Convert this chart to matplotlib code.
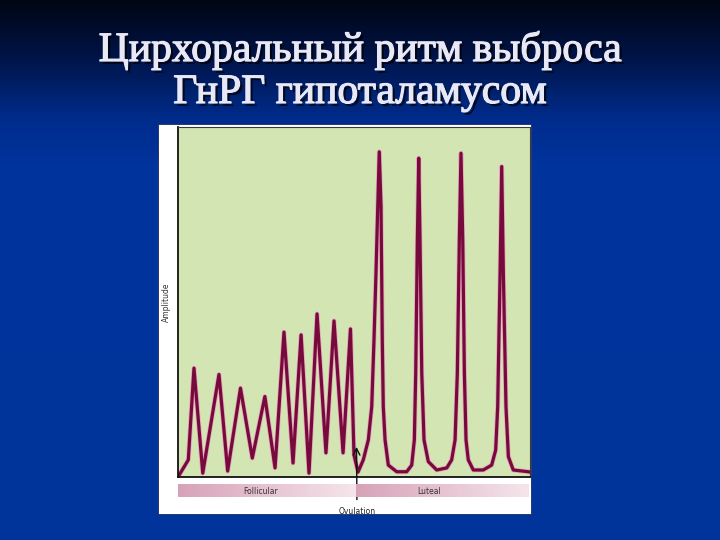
import numpy as np
import matplotlib
matplotlib.use("Agg")
import matplotlib.pyplot as plt
import matplotlib.patheffects as pe
from matplotlib.colors import LinearSegmentedColormap

# Заголовок слайда
title_lines = ["Цирхоральный ритм выброса", "ГнРГ гипоталамусом"]

# Пульсы ГнРГ: время (дни цикла) и амплитуда (0-100)
days = [0.00, 0.82, 1.27, 1.97, 3.26, 3.95, 4.97, 5.91, 6.91, 7.72,
        8.43, 9.15, 9.79, 10.42, 11.06, 11.77, 12.41, 13.13, 13.72, 14.00,
        14.32, 14.74, 15.14, 15.41, 15.59, 15.75, 15.89, 16.01, 16.15, 16.25,
        16.33, 16.47, 16.73, 17.40, 18.19, 18.59, 18.80, 18.91, 19.04, 19.15,
        19.25, 19.39, 19.57, 19.91, 20.58, 21.38, 21.77, 22.04, 22.22, 22.38,
        22.51, 22.65, 22.78, 22.91, 23.09, 23.49, 24.28, 24.95, 25.27, 25.43,
        25.62, 25.75, 25.88, 26.09, 26.28, 26.67, 27.87, 28.00]
amplitude = [0.0, 4.9, 31.1, 1.1, 29.3, 1.7, 25.4, 5.4, 23.0, 2.6,
             41.4, 4.0, 40.6, 1.1, 46.6, 6.9, 44.6, 6.9, 42.3, 6.3,
             1.4, 4.9, 10.6, 20.1, 39.1, 58.3, 77.2, 92.9, 77.2, 39.1,
             20.1, 10.6, 3.4, 1.5, 1.5, 3.4, 10.6, 29.7, 67.7, 91.1,
             67.7, 29.7, 10.6, 4.4, 2.0, 2.6, 4.9, 10.6, 29.7, 67.7,
             92.5, 67.7, 29.7, 10.6, 4.9, 2.0, 2.0, 3.4, 7.7, 20.1,
             58.3, 88.7, 58.3, 20.1, 5.8, 2.0, 1.5, 1.4]

# Фазы цикла
phases = ["Follicular", "Luteal"]
phase_start = [0, 14.2]
phase_end = [14.2, 28]
ovulation_day = 14.2

W, H = 720, 540
fig = plt.figure(figsize=(7.2, 5.4), dpi=100)

def fx(px):
    return px / W

def fy(py):
    return 1 - py / H

# Фон: градиент тёмно-синий
bg = fig.add_axes([0, 0, 1, 1])
stops = [(0.0, "#000614"), (0.10, "#001345"), (0.22, "#002c8c"), (0.30, "#00339b"), (1.0, "#00359c")]
bg_cmap = LinearSegmentedColormap.from_list("bg", stops)
bg.imshow(np.linspace(0, 1, 256).reshape(-1, 1), aspect="auto", cmap=bg_cmap,
          extent=[0, 1, 0, 1], origin="upper")
bg.set_xlim(0, 1)
bg.set_ylim(0, 1)
bg.axis("off")

# Заголовок с тенью (обычный шрифт, слегка утолщённый обводкой)
title_color = "#e8e8f6"
shadow = [pe.withSimplePatchShadow(offset=(2, -2), shadow_rgbFace="black", alpha=0.7),
          pe.Stroke(linewidth=0.9, foreground=title_color), pe.Normal()]
fig.text(0.5, fy(61), title_lines[0], ha="center", va="baseline", fontsize=30,
         family="Liberation Serif", color=title_color, path_effects=shadow)
fig.text(0.5, fy(103), title_lines[1], ha="center", va="baseline", fontsize=30,
         family="Liberation Serif", color=title_color, path_effects=shadow)

# Белая подложка рисунка
bg.add_patch(plt.Rectangle((fx(158), fy(514)), fx(531) - fx(158), fy(124) - fy(514),
                           facecolor="white", edgecolor="#1a2a60", lw=0.6))

# Основной график
ax = fig.add_axes([fx(178), fy(477), fx(530) - fx(178), fy(127) - fy(477)])
ax.set_facecolor("#d2e5b3")
ax.plot(days, amplitude, color="#e7a3bf", lw=3.4, solid_joinstyle="round")
ax.plot(days, amplitude, color="#760a3a", lw=2.3, solid_joinstyle="round")
ax.set_xlim(0, 28)
ax.set_ylim(0, 100)
ax.set_xticks([])
ax.set_yticks([])
for s in ["left", "bottom"]:
    ax.spines[s].set_linewidth(1.3)
    ax.spines[s].set_color("#111111")
for s in ["top", "right"]:
    ax.spines[s].set_linewidth(0.8)
    ax.spines[s].set_color("#3a3a3a")
ax.set_ylabel("Amplitude", fontsize=5.5, color="#333333", labelpad=5)

# Полоса фаз
bar = fig.add_axes([fx(178), fy(497), fx(528) - fx(178), fy(484) - fy(497)])
pink = LinearSegmentedColormap.from_list("pink", ["#d7a2b8", "#f5e5eb"])
grad = np.linspace(0, 1, 200).reshape(1, -1)
for name, a, b in zip(phases, phase_start, phase_end):
    bar.imshow(grad, aspect="auto", cmap=pink, extent=[a, b, 0, 1])
    bar.text((a + b) / 2 - (1 if name == "Luteal" else 0.5), 0.45, name, ha="center", va="center",
             fontsize=5.5, color="#333333")
bar.set_xlim(0, 28)
bar.set_ylim(0, 1)
bar.axis("off")

# Стрелка овуляции
ax.annotate("Ovulation", xy=(ovulation_day, 8.6), xycoords="data",
            xytext=(fx(357), fy(511)), textcoords="figure fraction",
            ha="center", va="center", fontsize=5.5, color="#222222",
            arrowprops=dict(arrowstyle="->", color="#111111", lw=1.0, shrinkA=3, shrinkB=0,
                            mutation_scale=12),
            annotation_clip=False, zorder=10)

fig.savefig("out.png", dpi=100)
